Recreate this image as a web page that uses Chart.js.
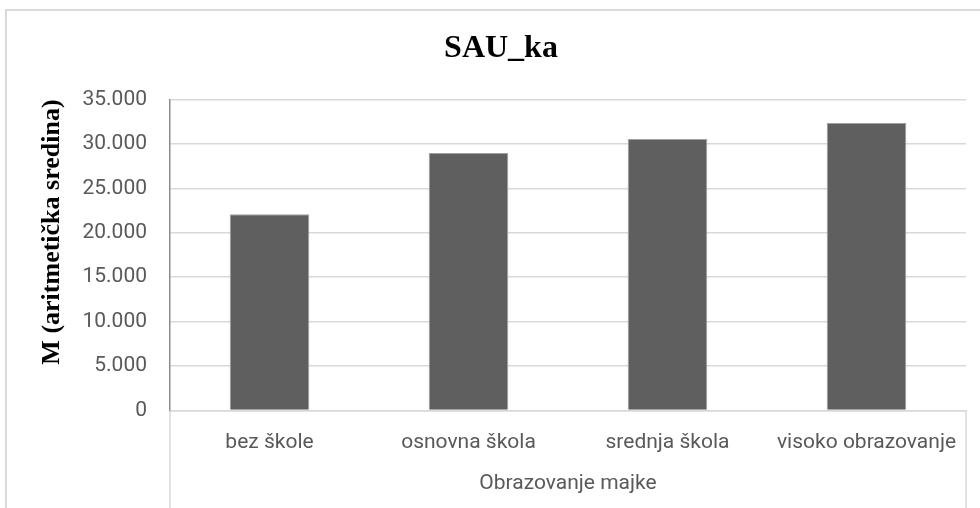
<!DOCTYPE html>
<html>
<head>
<meta charset="utf-8">
<script src="https://cdn.jsdelivr.net/npm/chart.js@4/dist/chart.umd.min.js"></script>
<style>
  html, body { margin: 0; padding: 0; background: #fff; overflow: hidden; }
  #frame { position: absolute; left: 5px; top: 9px; width: 1000px; height: 600px; border: 2px solid #d9d9d9; }
  #wrap { position: absolute; left: 0; top: 0; width: 980px; height: 508px; }
</style>
</head>
<body>
<div id="frame"></div>
<div id="wrap"><canvas id="chart" width="980" height="508"></canvas></div>
<script>
// podaci
const categories = ['bez škole', 'osnovna škola', 'srednja škola', 'visoko obrazovanje'];
const means = [22080, 28980, 30550, 32350];
const yTicks = [0, 5000, 10000, 15000, 20000, 25000, 30000, 35000];
const chartTitle = 'SAU_ka';
const yTitle = 'M (aritmetička sredina)';
const xTitle = 'Obrazovanje majke';

document.addEventListener('DOMContentLoaded', () => {
  const canvas = document.getElementById('chart');

  // linije ispod x osi (okvir kategorija)
  const categoryBox = {
    id: 'categoryBox',
    afterDraw(chart) {
      const { ctx, chartArea } = chart;
      ctx.save();
      ctx.strokeStyle = '#d9d9d9';
      ctx.lineWidth = 1.5;
      ctx.beginPath();
      ctx.moveTo(chartArea.left, chartArea.bottom);
      ctx.lineTo(chartArea.left, chart.height);
      ctx.moveTo(chartArea.right, chartArea.bottom);
      ctx.lineTo(chartArea.right, chart.height);
      ctx.stroke();
      ctx.restore();
    }
  };

  new Chart(canvas, {
    type: 'bar',
    data: {
      labels: categories,
      datasets: [{
        label: chartTitle,
        data: means,
        backgroundColor: '#5f5f5f',
        borderColor: '#a0a0a0',
        borderWidth: 1,
        categoryPercentage: 1,
        barPercentage: 0.4
      }]
    },
    options: {
      responsive: false,
      devicePixelRatio: 1,
      animation: false,
      layout: { padding: { left: 36, right: 14, top: 0, bottom: 0 } },
      plugins: {
        legend: { display: false },
        tooltip: { enabled: false },
        title: {
          display: true,
          text: chartTitle,
          color: '#000',
          font: { family: '"Liberation Serif", "Times New Roman", serif', size: 32, weight: 'bold' },
          padding: { top: 30, bottom: 31 }
        }
      },
      scales: {
        x: {
          grid: { drawOnChartArea: false, drawTicks: false },
          border: { color: '#d9d9d9', width: 1.5 },
          ticks: {
            color: '#595959',
            padding: 20,
            maxRotation: 0,
            font: { family: 'Roboto, sans-serif', size: 21 }
          },
          title: {
            display: true,
            text: xTitle,
            color: '#595959',
            font: { family: 'Roboto, sans-serif', size: 21 },
            padding: { top: 0, bottom: 12 }
          },
          afterFit: scale => { scale.height = 97.5; }
        },
        y: {
          min: 0,
          max: 35000,
          grid: { color: '#d9d9d9', lineWidth: 1.5, drawTicks: false },
          border: { color: '#8c8c8c', width: 1.5 },
          afterBuildTicks: scale => { scale.ticks = yTicks.map(v => ({ value: v })); },
          ticks: {
            color: '#595959',
            padding: 23,
            font: { family: 'Roboto, sans-serif', size: 21 },
            callback: v => v.toLocaleString('de-DE')
          },
          title: {
            display: true,
            text: yTitle,
            align: 'end',
            color: '#000',
            font: { family: '"Liberation Serif", "Times New Roman", serif', size: 26, weight: 'bold' },
            padding: { top: 1, bottom: 0 }
          },
          afterFit: scale => { scale.width = 134; }
        }
      }
    },
    plugins: [categoryBox]
  });
});
</script>
</body>
</html>
